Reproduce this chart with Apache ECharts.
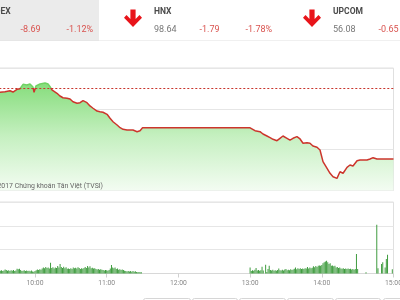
<!DOCTYPE html>
<html><head><meta charset="utf-8">
<script src="https://cdn.jsdelivr.net/npm/echarts@6/dist/echarts.min.js"></script>
<style>html,body{margin:0;padding:0;background:#fff}#c{width:400px;height:300px}</style>
</head><body><div id="c"></div>
<script>
const indexNames = ['VNINDEX', 'HNX', 'UPCOM'];
const indexValues = ['768.86', '98.64', '56.08'];
const indexChanges = ['-8.69', '-1.79', '-0.65'];
const indexPercents = ['-1.12%', '-1.78%', '-1.15%'];
const refIndex = 777.55;
const tickLabels = ['9:00', '10:00', '11:00', '12:00', '13:00', '14:00', '15:00'];
const watermark = '© 2017 Chứng khoán Tân Việt (TVSI)';

const priceTimes = [556, 562, 570.7, 574.9, 579.1, 581.6, 584.9, 587.4, 590.0, 593.3,
  595.8, 598.3, 599.2, 600.8, 604.2, 608.4, 610.9, 612.6, 614.2, 618.4,
  620.9, 623.4, 626.8, 629.3, 631.8, 635.2, 637.7, 640.2, 643.5, 646.0,
  648.6, 651.9, 654.4, 656.9, 660.3, 662.8, 665.3, 668.7, 671.2, 673.7,
  677.0, 682.0, 685.4, 687.9, 690, 780, 784.1, 788.3, 790.8, 794.1,
  796.7, 799.2, 802.5, 805.0, 807.5, 810.9, 813.4, 815.9, 819.2, 821.8,
  824.3, 827.6, 830.1, 832.6, 836.0, 838.5, 841.0, 844.4, 846.9, 849.4,
  852.7, 855.2, 857.8, 861.1, 863.6, 866.1, 869.5, 872.0, 877.8, 880.4,
  882.9, 886.2, 900];
const priceValues = [776.95, 777.0, 777.02, 777.10, 777.22, 777.06, 777.39, 777.47, 778.00, 777.92,
  778.04, 777.67, 777.02, 777.80, 778.04, 778.16, 778.04, 777.71, 777.31, 776.90,
  776.57, 776.36, 776.29, 776.20, 775.87, 775.68, 775.75, 776.00, 775.75, 775.35,
  775.07, 774.73, 774.65, 774.58, 774.33, 773.84, 773.42, 773.02, 772.69, 772.49,
  772.41, 772.41, 772.20, 772.32, 772.67, 772.67, 772.32, 772.20, 771.92, 771.67,
  771.47, 771.27, 771.10, 771.39, 771.67, 771.39, 771.18, 771.39, 771.59, 771.31,
  770.78, 770.85, 770.78, 770.45, 770.29, 769.96, 768.53, 767.72, 767.11, 766.69,
  766.49, 767.30, 767.11, 767.84, 768.12, 768.00, 768.65, 768.74, 768.74, 768.86,
  769.02, 768.86, 768.86];

const morningStart = 570;
const morningVolumes = [
  130,115,140,105,125,170,150,120,135,105,
  140,120,150,105,130,200,180,200,150,110,
  115,135,105,130,100,120,95,130,85,70,
  105,135,170,150,180,155,215,255,220,270,
  235,255,205,455,235,265,205,255,235,310,
  255,395,275,235,285,220,265,195,215,185,
  225,190,255,220,245,215,265,235,190,220,
  195,235,275,235,310,255,300,220,245,205,
  220,185,170,190,155,180,160,145,130,150,
  140,120,145,215,355,255,220,255,190,215,
  160,180,145,170,150,120,100,85,110,85,
  100,75,100,70,95,65,55,65,50,55];
const afternoonStart = 780;
const afternoonVolumes = [
  255,105,140,120,155,235,130,150,120,140,
  285,130,0,370,60,190,325,150,130,155,
  120,140,120,150,215,135,130,155,130,170,
  190,140,160,135,180,150,170,200,255,180,
  225,190,225,185,215,190,225,205,275,205,
  255,220,245,300,265,310,275,325,340,320,
  360,425,470,500,540,470,395,425,325,340,
  300,325,255,275,235,255,215,200,225,190,
  215,185,205,185,200,170,190,160,185,820,
  185];
const closingTimes = [877, 886, 887, 890, 891, 893, 894, 895, 899];
const closingVolumes = [50, 2050, 225, 395, 470, 255, 610, 790, 180];

const font = 'Roboto, sans-serif';
const gridLeft = -36.7, gridRight = 6.5;

const volumeData = []
  .concat(morningVolumes.map((v, i) => [morningStart + i, v]))
  .concat(afternoonVolumes.map((v, i) => [afternoonStart + i, v]))
  .concat(closingTimes.map((t, i) => [t, closingVolumes[i]]));

// header graphics
const colX = [-25, 154, 333];
const graphics = [
  {type: 'rect', shape: {x: 0, y: 0, width: 99, height: 41}, style: {fill: '#ebebeb'}, z: 0},
  {type: 'rect', shape: {x: 0, y: 40.5, width: 400, height: 0.5}, style: {fill: '#e2e2e2'}, z: 1}
];
indexNames.forEach((n, i) => {
  const x0 = colX[i];
  const cx = x0 - 21;
  graphics.push({type: 'polygon', shape: {points: [
      [cx - 2.6, 9.5], [cx + 2.6, 9.5], [cx + 2.6, 19], [cx + 6.5, 15], [cx + 9, 17.7],
      [cx, 27], [cx - 9, 17.7], [cx - 6.5, 15], [cx - 2.6, 19]]},
    style: {fill: '#e8141a'}, z: 5});
  graphics.push({type: 'text', x: x0, y: 12, style: {text: n, fill: '#4a4a4a', fontSize: 8.5, fontWeight: 'bold', fontFamily: font, align: 'left', verticalAlign: 'middle'}, z: 5});
  if (x0 >= 0) {
    graphics.push({type: 'text', x: x0, y: 30, style: {text: indexValues[i], fill: '#777', fontSize: 9, fontFamily: font, align: 'left', verticalAlign: 'middle'}, z: 5});
  }
  graphics.push({type: 'text', x: x0 + 45.5, y: 30, style: {text: indexChanges[i], fill: '#d9534f', fontSize: 9, fontFamily: font, align: 'left', verticalAlign: 'middle'}, z: 5});
  graphics.push({type: 'text', x: x0 + 91.5, y: 30, style: {text: indexPercents[i], fill: '#d9534f', fontSize: 9, fontFamily: font, align: 'left', verticalAlign: 'middle'}, z: 5});
});
graphics.push({type: 'text', x: 103, y: 186, style: {text: watermark, fill: '#666', fontSize: 6.9, fontFamily: font, align: 'right', verticalAlign: 'middle'}, z: 10});
[[143, 190], [192, 237], [239, 285], [287, 333], [335, 380], [383, 428]].forEach(b => {
  graphics.push({type: 'rect', shape: {x: b[0] + 0.5, y: 298.5, width: b[1] - b[0], height: 20, r: 2}, style: {fill: '#fff', stroke: '#d6d6d6', lineWidth: 1}, z: 1});
});

const chart = echarts.init(document.getElementById('c'));
chart.setOption({
  animation: false,
  backgroundColor: '#fff',
  grid: [
    {left: gridLeft, right: gridRight, top: 68, bottom: 109.5, show: true, borderColor: '#e0e0e0', borderWidth: 1, containLabel: false, outerBoundsMode: 'none'},
    {left: gridLeft, right: gridRight, top: 202, bottom: 26.5, show: true, borderColor: '#e0e0e0', borderWidth: 1, containLabel: false, outerBoundsMode: 'none'}
  ],
  xAxis: [
    {gridIndex: 0, type: 'value', min: 540, max: 900, interval: 60,
      axisLine: {show: false}, axisTick: {show: false}, axisLabel: {show: false}, splitLine: {show: false}},
    {gridIndex: 1, type: 'value', min: 540, max: 900, interval: 60,
      axisLine: {lineStyle: {color: '#d8d8d8'}}, axisTick: {length: 4, lineStyle: {color: '#d0d0d0'}},
      axisLabel: {fontSize: 6.8, color: '#888', margin: 6, fontFamily: font,
        formatter: v => tickLabels[Math.round((v - 540) / 60)]},
      splitLine: {show: false}}
  ],
  yAxis: [
    {gridIndex: 0, type: 'value', min: 765, max: 780, interval: 5,
      axisLabel: {show: false}, axisLine: {show: false}, axisTick: {show: false},
      splitLine: {lineStyle: {color: '#e6e6e6'}}},
    {gridIndex: 1, type: 'value', min: 0, max: 3000, interval: 1000,
      axisLabel: {show: false}, axisLine: {show: false}, axisTick: {show: false},
      splitLine: {lineStyle: {color: '#e6e6e6'}}}
  ],
  visualMap: {show: false, type: 'piecewise', seriesIndex: 0, dimension: 1,
    pieces: [{min: refIndex, max: 790, color: '#6fd364'}, {min: 760, max: refIndex, color: '#cc352c'}]},
  series: [
    {type: 'line', xAxisIndex: 0, yAxisIndex: 0, symbol: 'none', silent: true,
      data: priceTimes.map((t, i) => [t, priceValues[i]]),
      lineStyle: {width: 1.5},
      areaStyle: {opacity: 1, color: {type: 'linear', x: 0, y: 0, x2: 0, y2: 1, colorStops: [
        {offset: 0, color: '#86dd7c'}, {offset: 0.5, color: '#c6f0c1'}, {offset: 1, color: '#f3fcf2'}]}},
      markLine: {silent: true, symbol: 'none', label: {show: false},
        lineStyle: {color: '#c8352c', type: [2, 2], width: 1},
        data: [{yAxis: refIndex}]}},
    {type: 'bar', xAxisIndex: 1, yAxisIndex: 1, silent: true, barWidth: 1,
      data: volumeData, itemStyle: {color: '#3f9c3f'}}
  ],
  graphic: graphics
});
</script></body></html>
